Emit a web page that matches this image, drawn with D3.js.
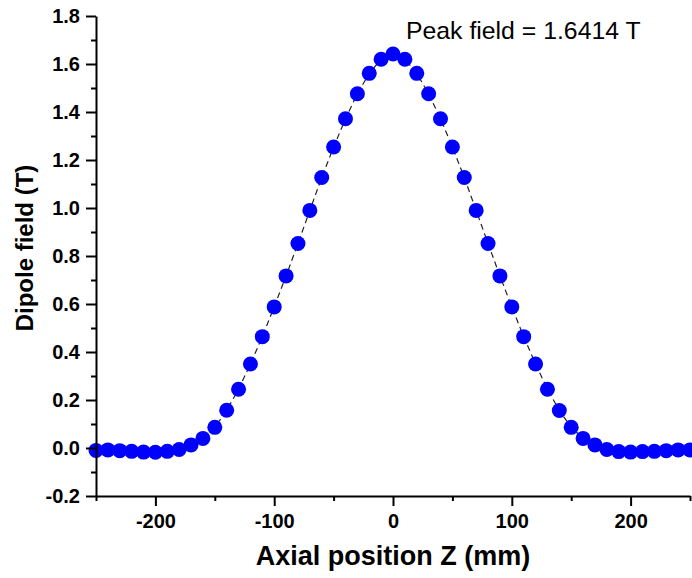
<!DOCTYPE html>
<html>
<head>
<meta charset="utf-8">
<script src="https://cdn.jsdelivr.net/npm/d3@7"></script>
<style>
  html, body { margin: 0; padding: 0; background: #fff; }
  svg { display: block; font-family: "Liberation Sans", Arial, sans-serif; }
</style>
</head>
<body>
<svg id="chart" width="692" height="578"></svg>
<script>
// ---- data ----
const zPositions = [-250,-240,-230,-220,-210,-200,-190,-180,-170,-160,-150,-140,-130,-120,-110,-100,-90,-80,-70,-60,-50,-40,-30,-20,-10,0,
  10,20,30,40,50,60,70,80,90,100,110,120,130,140,150,160,170,180,190,200,210,220,230,240,250];
const fieldValues = [-0.010,-0.008,-0.011,-0.014,-0.017,-0.018,-0.014,-0.006,0.013,0.040,0.086,0.157,0.245,0.350,0.464,0.588,0.717,0.852,0.990,1.127,1.254,1.372,1.476,1.561,1.620,1.6414,
  1.620,1.561,1.476,1.372,1.254,1.127,0.990,0.852,0.717,0.588,0.464,0.350,0.245,0.156,0.086,0.040,0.013,-0.006,-0.015,-0.017,-0.015,-0.014,-0.011,-0.008,-0.008];
const xMajorTicks = [-200,-100,0,100,200];
const xMinorTicks = [-250,-150,-50,50,150,250];
const yMajorTicks = [-0.2,0.0,0.2,0.4,0.6,0.8,1.0,1.2,1.4,1.6,1.8];
const yMinorTicks = [-0.1,0.1,0.3,0.5,0.7,0.9,1.1,1.3,1.5,1.7];
const xTitle = "Axial position Z (mm)";
const yTitle = "Dipole field (T)";
const annotation = "Peak field = 1.6414 T";

const data = zPositions.map((z, i) => ({z, b: fieldValues[i]}));

// ---- layout ----
const svg = d3.select("#chart");
const mLeft = 96, mRight = 690, mTop = 16, mBottom = 496;
const x = d3.scaleLinear().domain([-250, 250]).range([mLeft, mRight]);
const y = d3.scaleLinear().domain([-0.2, 1.8]).range([mBottom, mTop]);

// line
const line = d3.line().x(d => x(d.z)).y(d => y(d.b));
svg.append("path")
  .datum(data)
  .attr("d", line)
  .attr("fill", "none")
  .attr("stroke", "#222")
  .attr("stroke-width", 1.2)
  .attr("stroke-dasharray", "6,4");

// points
svg.append("g").selectAll("circle")
  .data(data).join("circle")
  .attr("cx", d => x(d.z))
  .attr("cy", d => y(d.b))
  .attr("r", 7.5)
  .attr("fill", "#0000ff");

// axes
function styleAxis(g) {
  g.select(".domain").attr("stroke", "#000").attr("stroke-width", 2);
  g.selectAll(".tick line").attr("stroke", "#000").attr("stroke-width", 2);
  g.selectAll(".tick text").attr("fill", "#000")
    .style("font-size", "20px").style("font-weight", "bold")
    .style("font-family", '"Liberation Sans", Arial, sans-serif');
}
const hyphen = f => d => f(d).replace("\u2212", "-");

// minor ticks
svg.append("g").attr("transform", `translate(0,${mBottom})`)
  .call(d3.axisBottom(x).tickValues(xMinorTicks).tickSize(5).tickFormat(""))
  .call(g => { g.select(".domain").remove(); g.selectAll(".tick line").attr("stroke", "#000").attr("stroke-width", 2); });
svg.append("g").attr("transform", `translate(${mLeft},0)`)
  .call(d3.axisLeft(y).tickValues(yMinorTicks).tickSize(5).tickFormat(""))
  .call(g => { g.select(".domain").remove(); g.selectAll(".tick line").attr("stroke", "#000").attr("stroke-width", 2); });

// major axes
svg.append("g").attr("transform", `translate(0,${mBottom})`)
  .call(d3.axisBottom(x).tickValues(xMajorTicks).tickSize(10).tickSizeOuter(0).tickPadding(8).tickFormat(hyphen(d3.format("d"))))
  .call(styleAxis);
svg.append("g").attr("transform", `translate(${mLeft},0)`)
  .call(d3.axisLeft(y).tickValues(yMajorTicks).tickSize(10).tickSizeOuter(0).tickPadding(6).tickFormat(hyphen(d3.format(".1f"))))
  .call(styleAxis);

// titles
svg.append("text")
  .attr("x", 393).attr("y", 565)
  .attr("text-anchor", "middle")
  .style("font-size", "27px").style("font-weight", "bold")
  .text(xTitle);
svg.append("text")
  .attr("transform", "translate(33,248) rotate(-90)")
  .attr("text-anchor", "middle")
  .style("font-size", "24px").style("font-weight", "bold")
  .text(yTitle);

// annotation
svg.append("text")
  .attr("x", 406).attr("y", 39)
  .style("font-size", "24.8px")
  .text(annotation);
</script>
</body>
</html>
